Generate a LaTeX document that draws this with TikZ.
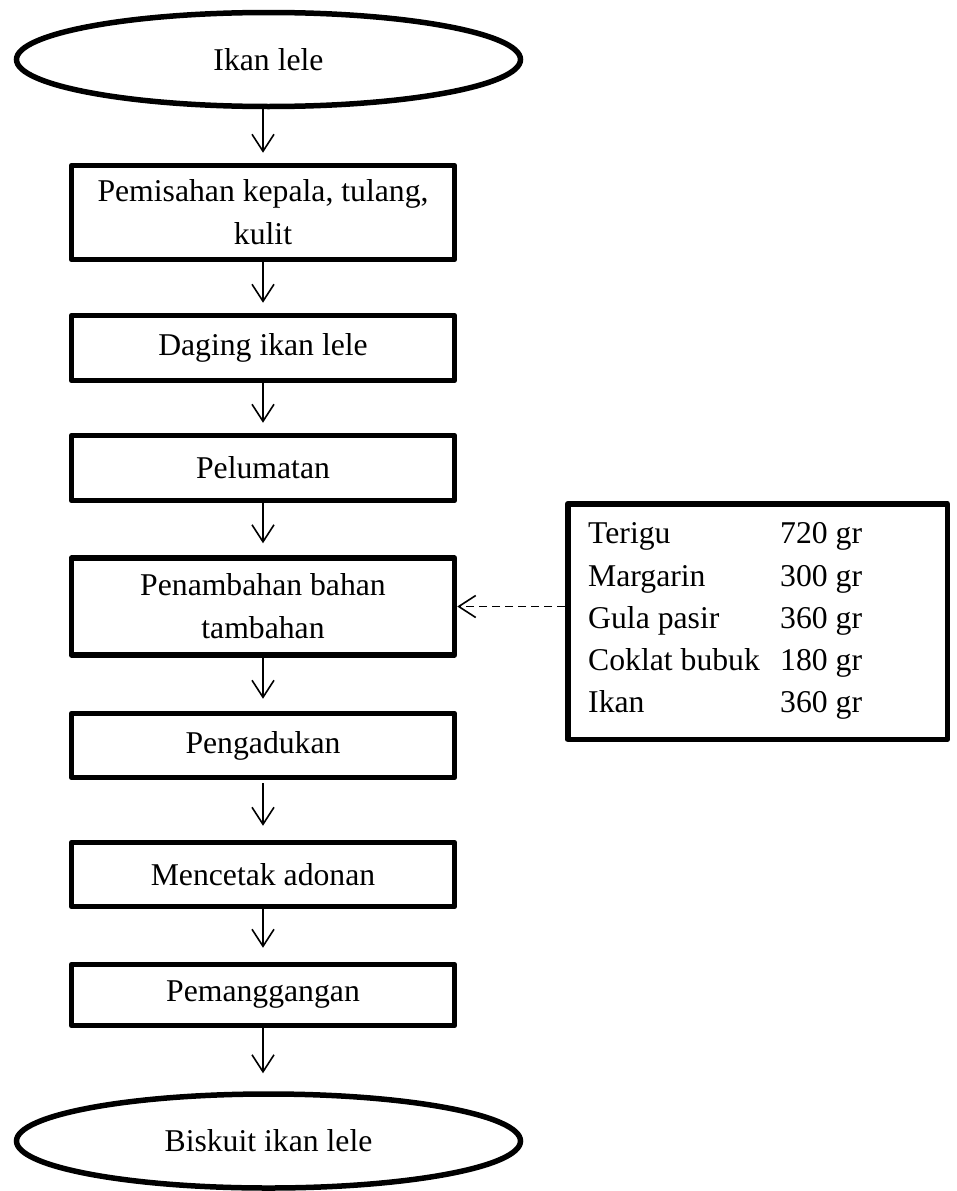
\documentclass[tikz,border=0pt]{standalone}
\usepackage{fontspec}
\setmainfont{Liberation Serif}
\usetikzlibrary{arrows.meta,shapes.geometric}
\begin{document}
\begin{tikzpicture}[x=1pt,y=-1pt,
  txt/.style={font=\fontsize{31.7pt}{43pt}\selectfont},
  procbox/.style={draw, line width=5.5pt, line join=round, rectangle, minimum width=383pt, inner sep=0pt, align=center, txt},
  term/.style={draw, line width=5.5pt, ellipse, minimum width=504pt, minimum height=94pt, inner sep=0pt, txt},
  flow/.style={line width=1.6pt, -{Straight Barb[length=17pt,width=22pt,line width=1.6pt]}},
  feed/.style={flow, dash pattern=on 8pt off 5pt},
  ingtext/.style={anchor=base west, inner sep=0pt, txt}]
\useasboundingbox (0,0) rectangle (957,1191);

\node[term] (start) at (268.5,59.5) {Ikan lele};
\node[procbox, minimum height=94pt] (b1) at (263,212.5) {Pemisahan kepala, tulang,\\kulit};
\node[procbox, minimum height=65pt] (b2) at (263,348) {Daging ikan lele};
\node[procbox, minimum height=65pt] (b3) at (263,468) {Pelumatan};
\node[procbox, minimum height=97pt] (b4) at (263,606.5) {Penambahan bahan\\tambahan};
\node[procbox, minimum height=64pt] (b5) at (263,745.5) {Pengadukan};
\node[procbox, minimum height=64pt] (b6) at (263,874.5) {Mencetak adonan};
\node[procbox, minimum height=61pt] (b7) at (263,995) {Pemanggangan};
\node[term] (end) at (268.5,1141) {Biskuit ikan lele};

\node[draw, line width=5.5pt, line join=round, rectangle, minimum width=379.5pt, minimum height=235.5pt, inner sep=0pt] (ing) at (757.5,621.5) {};
\node[ingtext] (t1) at (588,543) {Terigu};
\node[ingtext] (t2) at (588,586) {Margarin};
\node[ingtext] (t3) at (588,628) {Gula pasir};
\node[ingtext] (t4) at (588,670) {Coklat bubuk};
\node[ingtext] (t5) at (588,712) {Ikan};
\node[ingtext] (n1) at (780,543) {720 gr};
\node[ingtext] (n2) at (780,586) {300 gr};
\node[ingtext] (n3) at (780,628) {360 gr};
\node[ingtext] (n4) at (780,670) {180 gr};
\node[ingtext] (n5) at (780,712) {360 gr};

\draw[flow, shorten >=10pt] (start.south -| b1.north) -- (b1.north);
\draw[flow, shorten >=10pt] (b1.south) -- (b2.north);
\draw[flow, shorten >=10pt] (b2.south) -- (b3.north);
\draw[flow, shorten >=12pt] (b3.south) -- (b4.north);
\draw[flow, shorten >=12pt] (b4.south) -- (b5.north);
\draw[flow, shorten >=14pt, shorten <=3pt] (b5.south) -- (b6.north);
\draw[flow, shorten >=14pt] (b6.south) -- (b7.north);
\draw[flow, shorten >=18pt] (b7.south) -- (b7.south |- end.north);
\draw[feed] (ing.west |- b4.east) -- (b4.east);
\end{tikzpicture}
\end{document}
